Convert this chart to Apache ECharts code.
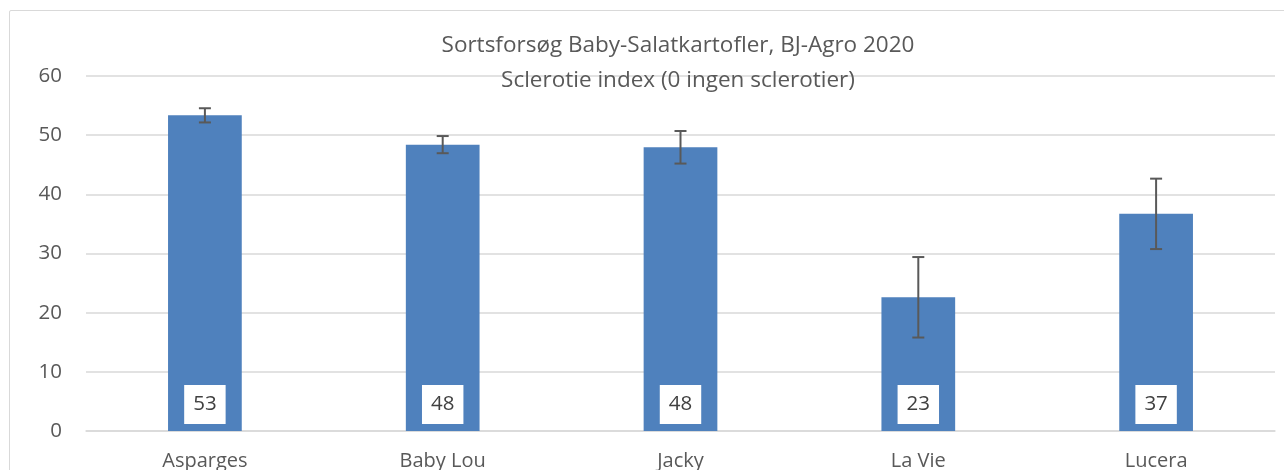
<!DOCTYPE html>
<html>
<head>
<meta charset="utf-8">
<script src="https://cdn.jsdelivr.net/npm/echarts@6/dist/echarts.min.js"></script>
<style>
  html, body { margin: 0; padding: 0; background: #fff; overflow: hidden; }
  #frame { position: absolute; left: 9px; top: 10px; width: 1320px; height: 600px;
           border: 1px solid #d9d9d9; border-radius: 2px; }
  #chart { position: absolute; left: 0; top: 0; width: 1284px; height: 520px; }
</style>
</head>
<body>
<div id="frame"></div>
<div id="chart"></div>
<script>
// sorter og sclerotie index
const sorter = ['Asparges', 'Baby Lou', 'Jacky', 'La Vie', 'Lucera'];
const indexVaerdi = [53.35, 48.4, 47.95, 22.6, 36.7];
const fejl = [1.2, 1.45, 2.75, 6.8, 5.95];   // +/- error bars
const yTicks = [0, 10, 20, 30, 40, 50, 60];

const tekst = '#595959';
const font = '"Open Sans", "Noto Sans", sans-serif';

// lav/hoej til error bars
const fejlData = sorter.map((s, i) => [i, indexVaerdi[i] - fejl[i], indexVaerdi[i] + fejl[i]]);

const option = {
  animation: false,
  backgroundColor: 'transparent',
  textStyle: { fontFamily: font },
  title: {
    text: 'Sortsforsøg Baby-Salatkartofler, BJ-Agro 2020\nSclerotie index (0 ingen sclerotier)',
    left: 673,
    top: 23,
    textAlign: 'center',
    textStyle: { color: tekst, fontSize: 22.5, fontWeight: 'normal', lineHeight: 35, fontFamily: font }
  },
  grid: { left: 86, right: 9, top: 76, bottom: 89 },
  xAxis: {
    type: 'category',
    data: sorter,
    axisLine: { lineStyle: { color: '#d9d9d9', width: 1.5 } },
    axisTick: { show: false },
    axisLabel: { color: tekst, fontSize: 20, margin: 20, fontFamily: font }
  },
  yAxis: {
    type: 'value',
    min: yTicks[0],
    max: yTicks[yTicks.length - 1],
    interval: 10,
    axisLine: { show: false },
    axisTick: { show: false },
    splitLine: { lineStyle: { color: '#d9d9d9', width: 1.5 } },
    axisLabel: { color: tekst, fontSize: 20.5, margin: 24, fontFamily: font }
  },
  series: [
    {
      type: 'bar',
      data: indexVaerdi,
      barWidth: '31%',
      itemStyle: { color: '#4f81bd' },
      label: {
        show: true,
        position: 'insideBottom',
        distance: 7,
        formatter: p => Math.round(p.value),
        backgroundColor: '#fff',
        color: '#404040',
        fontSize: 20.5,
        fontFamily: font,
        padding: [9, 9, 9, 9]
      }
    },
    {
      type: 'custom',
      data: fejlData,
      encode: { x: 0, y: [1, 2] },
      z: 5,
      renderItem: function (params, api) {
        const x = api.value(0);
        const lo = api.coord([x, api.value(1)]);
        const hi = api.coord([x, api.value(2)]);
        const w = 6;
        const st = { stroke: '#595959', lineWidth: 2 };
        return {
          type: 'group',
          children: [
            { type: 'line', shape: { x1: hi[0], y1: hi[1], x2: lo[0], y2: lo[1] }, style: st },
            { type: 'line', shape: { x1: hi[0] - w, y1: hi[1], x2: hi[0] + w, y2: hi[1] }, style: st },
            { type: 'line', shape: { x1: lo[0] - w, y1: lo[1], x2: lo[0] + w, y2: lo[1] }, style: st }
          ]
        };
      }
    }
  ]
};

const myChart = echarts.init(document.getElementById('chart'));
myChart.setOption(option);
</script>
</body>
</html>
